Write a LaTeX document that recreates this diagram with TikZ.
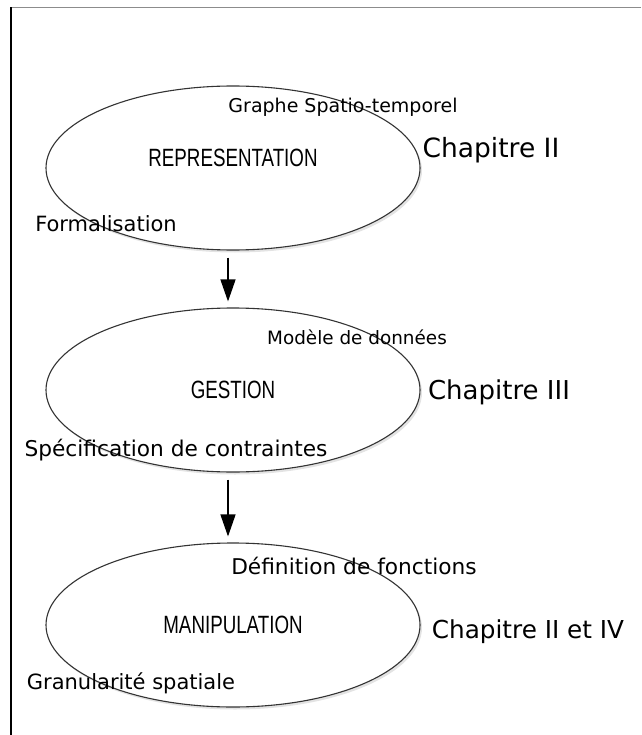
\documentclass[tikz,border=0pt]{standalone}
\usepackage{fontspec}
\setmainfont{DejaVu Sans}
\newfontfamily\narrowfont[FakeStretch=0.75]{Liberation Sans}
\usetikzlibrary{shapes.geometric,arrows.meta,shadows}

\begin{document}
\begin{tikzpicture}[x=1pt,y=-1pt]
    \tikzset{phase/.style={draw=black!80,line width=1.1pt,ellipse,fill=white,
        minimum width=374pt,minimum height=164pt,inner sep=0pt,
        font=\narrowfont\fontsize{25}{25}\selectfont,
        drop shadow={opacity=0.22,shadow xshift=2pt,shadow yshift=-2.5pt}},
    note/.style={inner sep=0pt,font=\fontsize{#1}{#1}\selectfont},
    flow/.style={-{Triangle[length=22pt,width=15pt]},line width=1.3pt,
        shorten <=7pt,shorten >=6pt}}
    \useasboundingbox (0,0) rectangle (641,735);
    % frame
    \draw[black!45,line width=1.5pt] (641,7.5) -- (11,7.5);
    \draw[line width=1.2pt] (11,7.5) -- (11,735);
    % the three phases
    \node[phase,text depth=20pt] (rep) at (233,168) {REPRESENTATION};
    \node[phase] (gest) at (233,390) {GESTION};
    \node[phase] (manip) at (233,625) {MANIPULATION};
    \draw[flow] ([xshift=-5pt]rep.south) -- ([xshift=-5pt]gest.north);
    \draw[flow] ([xshift=-5pt]gest.south) -- ([xshift=-5pt]manip.north);
    % annotations
    \node[note=19] (graphe) at (343,107) {Graphe Spatio-temporel};
    \node[note=26.5] (chapII) at (491,150) {Chapitre II};
    \node[note=21] (formal) at (106,224) {Formalisation};
    \node[note=18.4] (modele) at (357,337) {Modèle de données};
    \node[note=26] (chapIII) at (499,392) {Chapitre III};
    \node[note=21.7] (specif) at (176,450) {Spécification de contraintes};
    \node[note=21.7] (defin) at (354,566) {Définition de fonctions};
    \node[note=24.7] (chapIV) at (528,632) {Chapitre II et IV};
    \node[note=21] (granul) at (131,683) {Granularité spatiale};
\end{tikzpicture}
\end{document}
